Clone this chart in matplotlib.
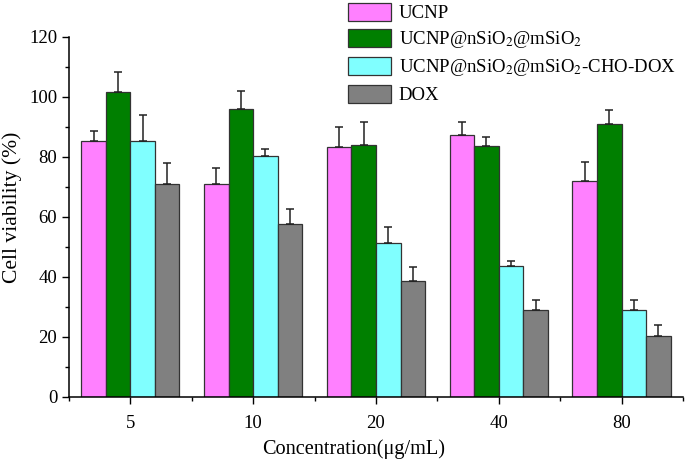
import numpy as np
import matplotlib
matplotlib.use("Agg")
import matplotlib.pyplot as plt

plt.rcParams['font.family'] = ['Liberation Serif', 'DejaVu Serif']
plt.rcParams['mathtext.fontset'] = 'stix'

# Data
concentrations = ['5', '10', '20', '40', '80']
series_names = ['UCNP', 'UCNP@nSiO$_2$@mSiO$_2$',
                'UCNP@nSiO$_2$@mSiO$_2$-CHO-DOX', 'DOX']
ucnp = [85.2, 70.8, 83.1, 87.2, 71.9]
ucnp_err = [3.5, 5.5, 6.8, 4.5, 6.4]
silica = [101.7, 95.9, 83.8, 83.5, 90.8]
silica_err = [6.6, 6.1, 7.7, 3.0, 4.9]
dox_carrier = [85.2, 80.2, 51.1, 43.5, 29.0]
dox_carrier_err = [8.6, 2.4, 5.4, 1.8, 3.1]
dox = [71.0, 57.6, 38.7, 29.0, 20.1]
dox_err = [6.9, 5.0, 4.5, 3.1, 3.8]

values = [ucnp, silica, dox_carrier, dox]
errors = [ucnp_err, silica_err, dox_carrier_err, dox_err]
colors = ['#FF80FF', '#007F00', '#80FFFF', '#808080']

fig = plt.figure(figsize=(6.85, 4.62), dpi=100)
ax = fig.add_axes([0.1007, 0.1413, 0.8963, 0.7793])

x = np.arange(len(concentrations))
width = 0.2
offsets = [-0.3, -0.1, 0.1, 0.3]
for vals, errs, col, name, off in zip(values, errors, colors, series_names, offsets):
    ax.bar(x + off, vals, width, color=col, edgecolor='#333333', linewidth=0.9,
           label=name,
           yerr=[np.zeros(len(errs)), errs], capsize=3,
           error_kw=dict(ecolor='#222222', elinewidth=1.1, capthick=1.1))

ax.set_xlim(-0.5, 4.5)
ax.set_ylim(0, 120)
ax.set_xticks(x)
ax.set_xticklabels(concentrations)
ax.set_xticks(np.arange(-0.5, 5, 1), minor=True)
ax.set_yticks(np.arange(0, 121, 20))
ax.set_yticks(np.arange(0, 121, 10), minor=True)
ax.tick_params(which='major', direction='out', length=5, width=1, labelsize=13.5)
ax.tick_params(axis='x', which='major', pad=8)
ax.tick_params(which='minor', direction='out', length=3, width=1)
ax.spines['top'].set_visible(False)
ax.spines['right'].set_visible(False)
for s in ['left', 'bottom']:
    ax.spines[s].set_linewidth(1.1)

ax.set_xlabel('Concentration(μg/mL)', fontsize=14.6)
ax.set_ylabel('Cell viability (%)', fontsize=15.6)
ax.xaxis.set_label_coords(0.464, -0.118)
ax.yaxis.set_label_coords(-0.077, 0.527)

fig.legend(loc='upper left', bbox_to_anchor=(0.497, 1.01), frameon=False,
           fontsize=13.5, handlelength=2.3, handleheight=1.1,
           labelspacing=0.35, handletextpad=0.4, borderaxespad=0)

fig.savefig('out.png', dpi=100)
